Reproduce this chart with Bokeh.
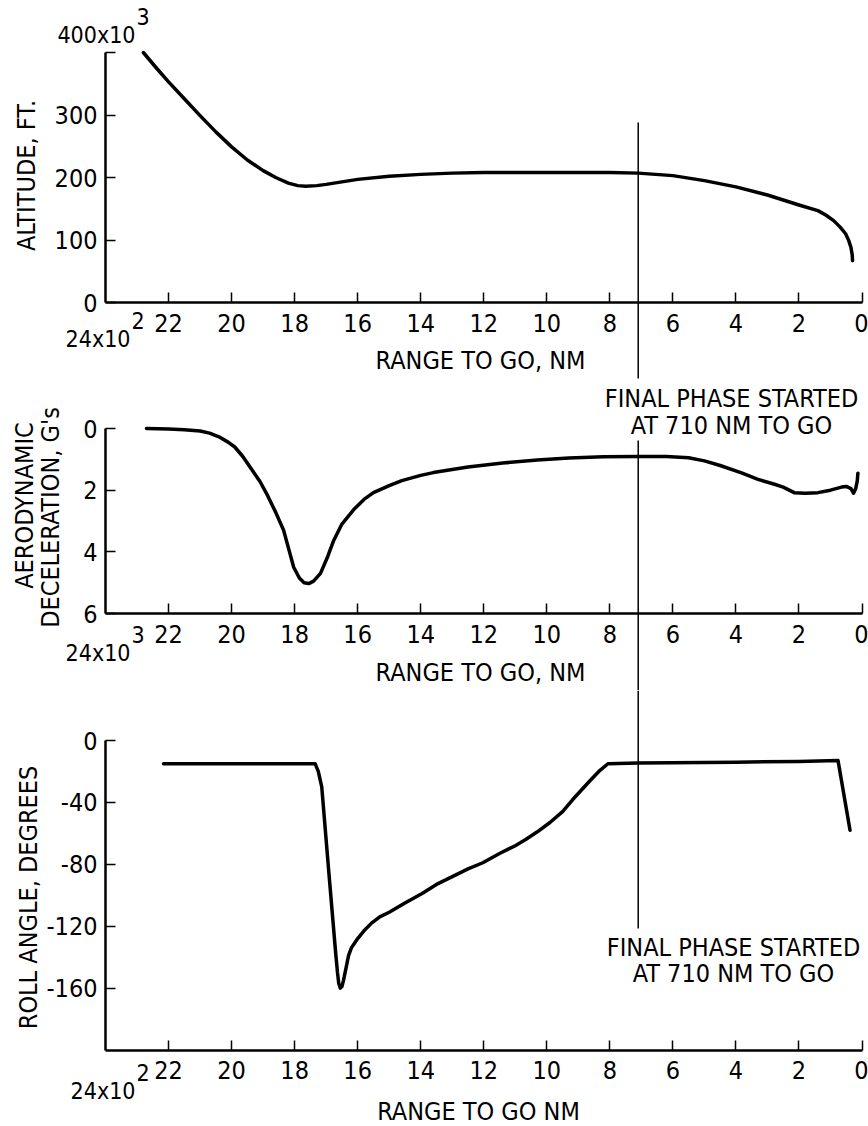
import math
from bokeh.plotting import figure
from bokeh.models import Range1d, LinearAxis, FixedTicker, Label
from bokeh.layouts import column
from bokeh.embed import file_html
from bokeh.resources import INLINE

# ---------------- data (range to go in 10^2 NM) ----------------
range_ticks = [22, 20, 18, 16, 14, 12, 10, 8, 6, 4, 2, 0]

alt_ticks = [0, 100, 200, 300, 400]
alt_tick_labels = ["0", "100", "200", "300", ""]
alt_range = [22.8, 22.4, 22.0, 21.5, 21.0, 20.5, 20.0, 19.5, 19.0, 18.6, 18.2, 17.9,
             17.65, 17.3, 17.0, 16.5, 16.0, 15.0, 14.0, 13.0, 12.0, 10.0, 8.0, 7.1,
             6.0, 5.0, 4.0, 3.0, 2.5, 2.0, 1.4, 1.15, 0.9, 0.7, 0.52, 0.42, 0.35,
             0.31, 0.3]
altitude = [400, 376, 353, 326, 299, 273, 249, 228, 211, 200, 191, 187,
            186, 187, 189, 193, 197, 202, 205, 207, 208, 208, 208, 207,
            203, 195, 185, 172, 164, 156, 147, 140, 131, 121, 110, 99, 88,
            76, 67]

decel_ticks = [0, 2, 4, 6]
decel_tick_labels = ["0", "2", "4", "6"]
decel_range = [22.7, 22.0, 21.5, 21.0, 20.7, 20.4, 20.1, 19.9, 19.65, 19.4, 19.1, 18.86,
               18.6, 18.35, 18.15, 18.03, 17.85, 17.7, 17.55, 17.4, 17.18, 16.95, 16.76,
               16.5, 16.1, 15.8, 15.5, 15.0, 14.6, 14.0, 13.6, 12.5, 11.4, 10.3, 9.3,
               8.2, 7.1, 6.2, 5.5, 5.0, 4.5, 3.8, 3.3, 2.8, 2.5, 2.15, 1.8, 1.4, 1.0,
               0.65, 0.5, 0.35, 0.27, 0.2, 0.15, 0.13]
decel = [0.0, 0.02, 0.04, 0.08, 0.15, 0.27, 0.45, 0.6, 0.9, 1.27, 1.72, 2.17,
         2.72, 3.3, 4.05, 4.5, 4.85, 5.0, 5.03, 4.95, 4.7, 4.15, 3.63,
         3.1, 2.6, 2.3, 2.08, 1.85, 1.69, 1.52, 1.43, 1.25, 1.12, 1.02, 0.96,
         0.92, 0.91, 0.91, 0.95, 1.05, 1.2, 1.45, 1.65, 1.8, 1.9, 2.08, 2.1, 2.08, 2.0,
         1.9, 1.88, 1.95, 2.1, 1.95, 1.7, 1.45]

roll_ticks = [0, -40, -80, -120, -160]
roll_tick_labels = ["0", "-40", "-80", "-120", "-160"]
roll_range = [22.16, 20.0, 18.0, 17.35, 17.25, 17.14, 16.92, 16.7, 16.64, 16.6, 16.55, 16.5,
              16.45, 16.38, 16.29, 16.2, 16.0, 15.8, 15.56, 15.3, 15.0, 14.5, 13.97, 13.5,
              12.9, 12.5, 12.03, 11.5, 11.0, 10.67, 10.3, 9.9, 9.5, 9.17, 8.9, 8.63, 8.35,
              8.06, 7.1, 4.0, 2.0, 0.76, 0.38]
roll = [-15, -15, -15, -15, -20, -30, -84, -137, -150, -157, -160, -159,
        -155, -148, -139, -134, -128, -123, -118, -114, -111, -105, -99, -93,
        -87, -83, -79, -73, -68, -64, -59, -53, -46, -38, -32, -26, -20,
        -15, -14.5, -14, -13.5, -13, -58]

FINAL_PHASE_X = 7.1   # final phase started at 710 NM to go

# ---------------- layout constants ----------------
FONT = "DejaVu Sans Condensed, sans-serif"
TICK_SIZE = "25px"
EXP_SIZE = "23px"
LABEL_SIZE = "25px"
W = 868
X0_PX = 861.5          # page px of range 0
PX_PER_X = 31.52
B12 = 380              # page px boundary between figure 1 and 2
B23 = 690              # page px boundary between figure 2 and 3
H = 1126


def px_x(px):
    return (X0_PX - px) / PX_PER_X


X_START = px_x(0)
X_END = px_x(W)


def make_fig(h, y_start, y_end):
    p = figure(width=W, height=h, x_range=Range1d(X_START, X_END), y_range=Range1d(y_start, y_end),
               x_axis_location=None, y_axis_location=None, toolbar_location=None, tools="",
               output_backend="svg", min_border_left=0, min_border_right=0,
               min_border_top=0, min_border_bottom=0, outline_line_color=None,
               background_fill_color="white", border_fill_color="white")
    p.grid.visible = False
    return p


def style_axis(ax):
    ax.axis_line_width = 2.5
    ax.axis_line_color = "black"
    ax.major_tick_in = 10
    ax.major_tick_out = 0
    ax.major_tick_line_width = 1.5
    ax.major_tick_line_color = "black"
    ax.minor_tick_line_color = None
    ax.major_label_text_font = FONT
    ax.major_label_text_font_size = TICK_SIZE
    ax.major_label_text_color = "black"


def add_x_axis(p, loc):
    ax = LinearAxis(ticker=FixedTicker(ticks=range_ticks), fixed_location=loc, bounds=(0, 24),
                    major_label_standoff=11)
    style_axis(ax)
    p.add_layout(ax, "below")


def add_y_axis(p, ticks, labels, bounds):
    ax = LinearAxis(ticker=FixedTicker(ticks=ticks), fixed_location=24, bounds=bounds,
                    major_label_standoff=8,
                    major_label_overrides={t: s for t, s in zip(ticks, labels)})
    style_axis(ax)
    p.add_layout(ax, "left")


def lab(p, text, x, y, align="center", size=LABEL_SIZE, angle=0.0):
    p.add_layout(Label(x=x, y=y, text=text, text_align=align,
                       text_baseline="middle", text_font=FONT, text_font_size=size,
                       angle=angle, text_color="black"))


# ---------------- panel 1: altitude ----------------
a_scale = 0.625          # px per 1e3 ft
a_zero = 302             # page px of 0
def a_y(py):
    return (a_zero - py) / a_scale

p1 = make_fig(B12, a_y(B12), a_y(0))
add_y_axis(p1, alt_ticks, alt_tick_labels, (0, 400))
add_x_axis(p1, 0)
p1.line(alt_range, altitude, line_width=3.5, line_color="black", line_join="round", line_cap="round")
p1.segment(x0=[FINAL_PHASE_X], y0=[a_y(122)], x1=[FINAL_PHASE_X], y1=[a_y(378)],
           line_width=1.5, line_color="black")
lab(p1, "400x10", px_x(135), a_y(34), align="right", size=EXP_SIZE)
lab(p1, "3", px_x(136), a_y(16), align="left", size=EXP_SIZE)
lab(p1, "24x10", px_x(130), a_y(338), align="right", size=EXP_SIZE)
lab(p1, "2", px_x(131), a_y(320), align="left", size=EXP_SIZE)
lab(p1, "RANGE TO GO, NM", px_x(480), a_y(360))
lab(p1, "ALTITUDE, FT.", px_x(26), a_y(175), angle=math.pi / 2)

# ---------------- panel 2: deceleration ----------------
d_scale = 185 / 6.0
d_zero = 428            # page px of 0
def d_y(py):
    return (py - d_zero) / d_scale

p2 = make_fig(B23 - B12, d_y(B23), d_y(B12))
add_y_axis(p2, decel_ticks, decel_tick_labels, (0, 6))
add_x_axis(p2, 6)
p2.line(decel_range, decel, line_width=3.5, line_color="black", line_join="round", line_cap="round")
p2.segment(x0=[FINAL_PHASE_X], y0=[d_y(440)], x1=[FINAL_PHASE_X], y1=[d_y(B23)],
           line_width=1.5, line_color="black")
lab(p2, "FINAL PHASE STARTED", px_x(731), d_y(398))
lab(p2, "AT 710 NM TO GO", px_x(731), d_y(425))
lab(p2, "24x10", px_x(130), d_y(652), align="right", size=EXP_SIZE)
lab(p2, "3", px_x(131), d_y(634), align="left", size=EXP_SIZE)
lab(p2, "RANGE TO GO, NM", px_x(480), d_y(672))
lab(p2, "AERODYNAMIC", px_x(24), d_y(505), angle=math.pi / 2)
lab(p2, "DECELERATION, G's", px_x(50), d_y(517), angle=math.pi / 2)

# ---------------- panel 3: roll angle ----------------
r_scale = 1.5475
r_zero = 740
def r_y(py):
    return -(py - r_zero) / r_scale

p3 = make_fig(H - B23, r_y(H), r_y(B23))
add_y_axis(p3, roll_ticks, roll_tick_labels, (-200, 0))
add_x_axis(p3, -200)
p3.line(roll_range, roll, line_width=3.5, line_color="black", line_join="round", line_cap="round")
p3.segment(x0=[FINAL_PHASE_X], y0=[r_y(B23)], x1=[FINAL_PHASE_X], y1=[r_y(928)],
           line_width=1.5, line_color="black")
lab(p3, "FINAL PHASE STARTED", px_x(733), r_y(947))
lab(p3, "AT 710 NM TO GO", px_x(733), r_y(973))
lab(p3, "24x10", px_x(135), r_y(1090), align="right", size=EXP_SIZE)
lab(p3, "2", px_x(136), r_y(1072), align="left", size=EXP_SIZE)
lab(p3, "RANGE TO GO NM", px_x(478), r_y(1111))
lab(p3, "ROLL ANGLE, DEGREES", px_x(28), r_y(897), angle=math.pi / 2)

layout = column(p1, p2, p3, spacing=0)
open("out.html", "w").write(file_html(layout, INLINE))
